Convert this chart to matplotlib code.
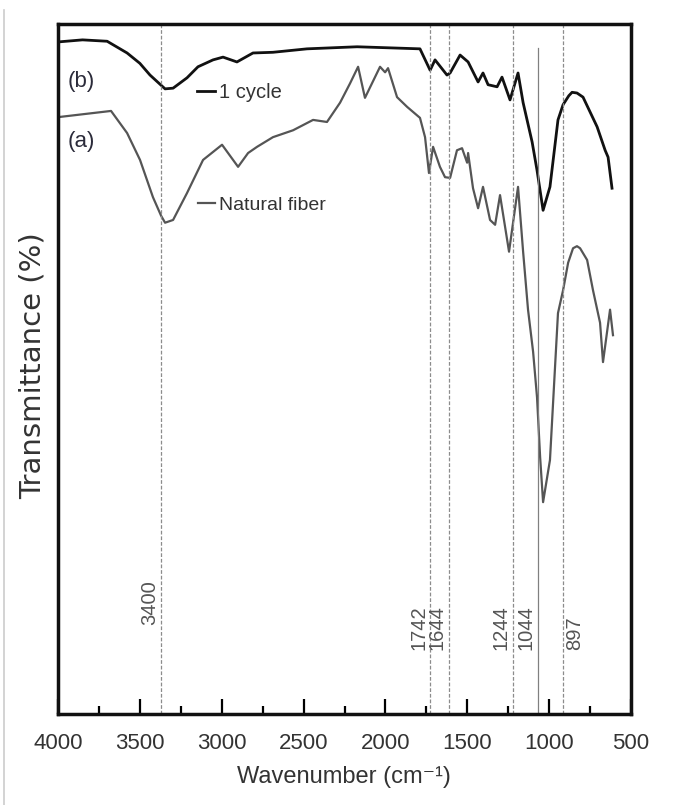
import matplotlib
matplotlib.use('Agg')
import matplotlib.pyplot as plt
import matplotlib.transforms as mtransforms
from matplotlib import font_manager
from matplotlib.lines import Line2D

# spectrum (b): 1 cycle
wn_b = [4000, 3850, 3700, 3578, 3500, 3438, 3346, 3297, 3212, 3145, 3053, 2992,
        2907, 2809, 2687, 2479, 2173, 1789, 1727, 1697, 1624, 1605, 1544, 1495,
        1434, 1404, 1373, 1318, 1288, 1239, 1190, 1159, 1104, 1074, 1037, 995,
        946, 915, 880, 860, 830, 793, 707, 658, 640, 616]
t_b = [97.4, 97.7, 97.5, 95.8, 94.3, 92.6, 90.6, 90.7, 92.2, 93.8, 94.8, 95.2,
       94.5, 95.8, 95.9, 96.4, 96.7, 96.4, 93.3, 94.8, 92.6, 92.9, 95.5, 94.5,
       91.6, 92.9, 91.2, 90.9, 92.3, 89.0, 92.9, 88.6, 82.9, 78.8, 73.0, 76.4,
       86.1, 88.3, 89.6, 90.1, 90.0, 89.4, 85.1, 81.7, 80.7, 76.2]

# spectrum (a): natural fiber
wn_a = [4000, 3676, 3578, 3499, 3420, 3370, 3346, 3297, 3212, 3114, 2998, 2900,
        2839, 2784, 2687, 2564, 2442, 2357, 2277, 2216, 2167, 2125, 2033, 2002,
        1984, 1929, 1868, 1789, 1758, 1734, 1709, 1667, 1636, 1605, 1563, 1532,
        1501, 1495, 1465, 1434, 1404, 1361, 1330, 1300, 1245, 1190, 1159, 1129,
        1098, 1074, 1055, 1037, 995, 964, 946, 915, 884, 854, 830, 811, 768, 732,
        689, 671, 628, 610]
t_a = [86.5, 87.4, 84.2, 80.3, 74.9, 72.2, 71.2, 71.6, 75.5, 80.3, 82.5, 79.3,
       81.3, 82.2, 83.6, 84.6, 86.1, 85.8, 88.6, 91.4, 93.8, 89.3, 93.8, 93.0,
       93.6, 89.4, 88.0, 86.4, 83.6, 78.4, 82.2, 79.3, 77.8, 77.7, 81.7, 82.0,
       79.9, 81.3, 76.2, 73.3, 76.4, 71.6, 70.9, 75.2, 67.0, 76.4, 67.0, 58.6,
       52.5, 45.9, 37.2, 30.7, 36.8, 50.3, 58.1, 61.4, 65.4, 67.5, 67.8, 67.5,
       65.8, 61.4, 56.7, 51.0, 58.6, 54.9]

# marker lines (position as drawn, label as printed)
peak_pos = [3368, 1725, 1612, 1222, 1068, 918]
peak_lab = ['3400', '1742', '1644', '1244', '1044', '897']

xticks = [4000, 3500, 3000, 2500, 2000, 1500, 1000, 500]

names = {f.name for f in font_manager.fontManager.ttflist}
narrow = 'Liberation Sans Narrow' if 'Liberation Sans Narrow' in names else 'Liberation Sans'
fam = [narrow, 'Liberation Sans', 'DejaVu Sans']

fig = plt.figure(figsize=(6.82, 8.05), dpi=100)
ax = fig.add_axes([58/682, 1-714/805, 573/682, 690/805])

line_b, = ax.plot(wn_b, t_b, color='#111111', lw=2.0, label='1 cycle')
line_a, = ax.plot(wn_a, t_a, color='#555555', lw=1.6, label='Natural fiber')

ax.set_xlim(4000, 500)
ax.set_ylim(0, 100)

trans = mtransforms.blended_transform_factory(ax.transData, ax.transAxes)
for p, lab in zip(peak_pos, peak_lab):
    if lab == '1044':
        ax.plot([p, p], [0, 0.965], transform=trans, color='#808080', lw=0.9)
    else:
        ax.plot([p, p], [0, 1], transform=trans, color='#8c8c8c', lw=0.9,
                ls=(0, (3, 1.5)))
    ybot = 0.129 if lab == '3400' else 0.093
    dx, ha = (2, 'left') if lab == '897' else (-1.5, 'right')
    ax.annotate(lab, xy=(p, ybot), xycoords=trans, xytext=(dx, 0),
                textcoords='offset points', rotation=90, ha=ha, va='bottom',
                fontsize=14.5, color='#555555', family=['Liberation Sans', 'DejaVu Sans'])

ax.set_xticks(xticks)
ax.set_xticks([3750, 3250, 2750, 2250, 1750, 1250, 750], minor=True)
ax.set_yticks([])
ax.tick_params(axis='x', which='major', direction='in', length=11, width=1.6, pad=14)
ax.tick_params(axis='x', which='minor', direction='in', length=6, width=1.6)
for lbl in ax.get_xticklabels():
    lbl.set_family(fam)
    lbl.set_fontsize(16)
    lbl.set_color('#333333')
for s in ax.spines.values():
    s.set_linewidth(2.5)
    s.set_color('#111111')

ax.set_xlabel('Wavenumber (cm⁻¹)', family=fam, fontsize=17, color='#333333')
ax.xaxis.set_label_coords(0.499, -0.075)
fig.text(33/682, 1-366/805, 'Transmittance (%)', rotation=90, ha='center', va='center',
         fontsize=21, color='#333333', family=['DejaVu Sans'])

ax.text(0.016, 0.917, '(b)', transform=ax.transAxes, ha='left', va='center',
        family=fam, fontsize=16, color='#2b2b3a')
ax.text(0.016, 0.830, '(a)', transform=ax.transAxes, ha='left', va='center',
        family=fam, fontsize=16, color='#2b2b3a')

leg_b = ax.legend(handles=[line_b], loc='center left', bbox_to_anchor=(0.243, 0.901),
                  frameon=False, borderpad=0, borderaxespad=0, handlelength=0.9,
                  handletextpad=0.2, prop={'family': fam, 'size': 14.5})
for t in leg_b.get_texts():
    t.set_color('#333333')
ax.add_artist(leg_b)
leg_a = ax.legend(handles=[line_a], loc='center left', bbox_to_anchor=(0.244, 0.738),
                  frameon=False, borderpad=0, borderaxespad=0, handlelength=0.9,
                  handletextpad=0.2, prop={'family': fam, 'size': 14})
for t in leg_a.get_texts():
    t.set_color('#333333')

fig.add_artist(Line2D([4/682, 4/682], [0, 1-10/805], color='#cccccc', lw=1.2))

fig.savefig('out.png', dpi=100)
